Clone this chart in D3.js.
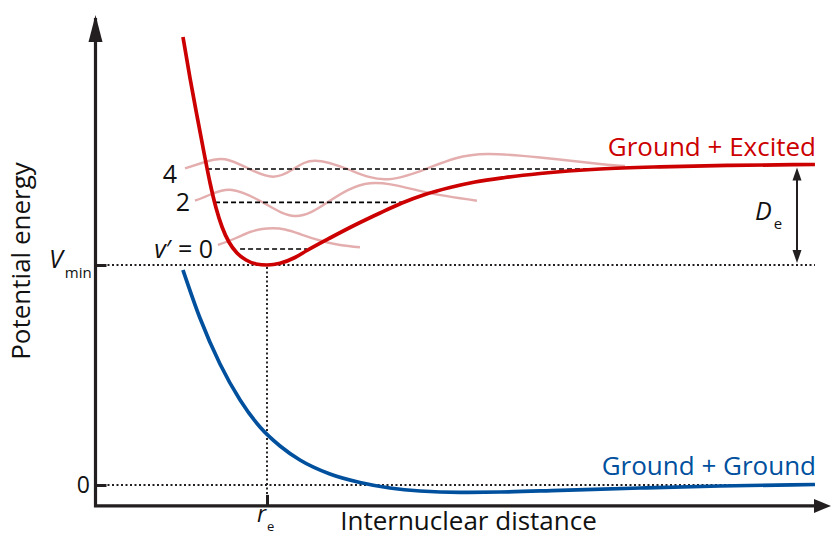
<!DOCTYPE html>
<html>
<head>
<meta charset="utf-8">
<script src="https://cdn.jsdelivr.net/npm/d3@7"></script>
<style>
  html, body { margin: 0; padding: 0; background: #fff; }
  svg { display: block; font-family: "Open Sans", "Noto Sans", sans-serif; }
</style>
</head>
<body>
<svg id="chart" width="832" height="537"></svg>
<script>
// ---- Data (r in units of r_e, energy in arbitrary units with V_min = 10) ----
const excitedR = [0.510, 0.551, 0.592, 0.633, 0.668, 0.703, 0.738, 0.778, 0.825, 0.878, 0.936, 1.000, 1.076, 1.163, 1.233, 1.367, 1.513, 1.659, 1.787, 1.921, 2.067, 2.213, 2.388, 2.592, 2.942, 3.292, 3.700, 4.195];
const excitedE = [20.364, 18.500, 16.773, 15.091, 13.727, 12.591, 11.727, 11.045, 10.545, 10.227, 10.045, 10.000, 10.077, 10.341, 10.659, 11.227, 11.818, 12.364, 12.818, 13.205, 13.523, 13.773, 13.977, 14.159, 14.364, 14.464, 14.527, 14.568];

const groundR = [0.510, 0.609, 0.726, 0.843, 0.959, 1.076, 1.192, 1.367, 1.542, 1.717, 1.892, 2.125, 2.359, 2.708, 3.175, 3.641, 4.195];
const groundE = [9.773, 7.591, 5.500, 3.864, 2.636, 1.773, 1.136, 0.500, 0.114, -0.136, -0.273, -0.332, -0.318, -0.241, -0.136, -0.045, 0.023];

const levelLabels = ["0", "2", "4"];
const levelE = [10.727, 12.850, 14.364];
const levelStartR = [0.843, 0.697, 0.650];
const levelEndR = [1.233, 1.787, 2.924];

const wave0R = [0.714, 0.813, 0.901, 0.971, 1.035, 1.105, 1.192, 1.309, 1.426, 1.542];
const wave0E = [10.909, 11.205, 11.500, 11.636, 11.668, 11.614, 11.409, 11.114, 10.909, 10.805];
const wave2R = [0.580, 0.679, 0.796, 0.971, 1.163, 1.356, 1.601, 1.910, 2.224];
const wave2E = [12.923, 13.227, 13.409, 12.864, 12.227, 12.864, 13.714, 13.332, 12.923];
const wave4R = [0.522, 0.638, 0.755, 0.901, 1.035, 1.152, 1.280, 1.484, 1.688, 1.910, 2.096, 2.289, 2.592, 2.942, 3.087];
const wave4E = [14.395, 14.682, 14.805, 14.350, 14.014, 14.350, 14.741, 14.318, 13.895, 14.318, 14.841, 15.045, 14.886, 14.591, 14.500];

const yTickValues = [0, 10];
const yTickLabels = ["0", "V|min"];
const xTickValues = [1];
const xTickLabels = ["r|e"];
const seriesNames = ["Ground + Excited", "Ground + Ground"];
const xTitle = "Internuclear distance";
const yTitle = "Potential energy";
const asymptoteE = 14.568;
const rMax = 4.195;

// ---- Scales ----
const svg = d3.select("#chart");
const x = d3.scaleLinear().domain([0, 1]).range([95.5, 267]);
const y = d3.scaleLinear().domain([0, 10]).range([485, 265]);
const axisColor = "#231f20";
const red = "#cc0000";
const blue = "#00509e";
const pink = "#e4aeae";

const x0 = x(0), yBase = y(-0.95);
const xEnd = x(rMax);

const line = d3.line().x(d => x(d[0])).y(d => y(d[1])).curve(d3.curveMonotoneX);
const waveLine = d3.line().x(d => x(d[0])).y(d => y(d[1])).curve(d3.curveNatural);
const zip = (a, b) => a.map((v, i) => [v, b[i]]);

// ---- Reference dotted lines ----
const dotted = svg.append("g").attr("stroke", axisColor).attr("stroke-width", 1.9).attr("stroke-dasharray", "2,2.5").attr("fill", "none");
yTickValues.forEach(v => {
  dotted.append("line").attr("x1", x0 + 12).attr("x2", xEnd).attr("y1", y(v)).attr("y2", y(v));
});
dotted.append("line").attr("x1", x(1)).attr("x2", x(1)).attr("y1", y(10) + 2).attr("y2", yBase - 12);

// ---- Wavefunctions ----
const waves = [zip(wave0R, wave0E), zip(wave2R, wave2E), zip(wave4R, wave4E)];
svg.append("g").selectAll("path").data(waves).join("path")
  .attr("d", waveLine).attr("fill", "none").attr("stroke", pink).attr("stroke-width", 2.4);

// ---- Vibrational levels ----
svg.append("g").selectAll("line").data(levelE).join("line")
  .attr("x1", (d, i) => x(levelStartR[i])).attr("x2", (d, i) => x(levelEndR[i]))
  .attr("y1", d => y(d)).attr("y2", d => y(d))
  .attr("stroke", "#000").attr("stroke-width", 1.7).attr("stroke-dasharray", "5,3");

// ---- Potential curves ----
svg.append("path").datum(zip(groundR, groundE)).attr("d", line)
  .attr("fill", "none").attr("stroke", blue).attr("stroke-width", 3.7);
svg.append("path").datum(zip(excitedR, excitedE)).attr("d", line)
  .attr("fill", "none").attr("stroke", red).attr("stroke-width", 3.7);

// ---- Axes (ticks via d3 axes) ----
const yAxis = d3.axisLeft(y).tickValues(yTickValues).tickSizeInner(-11).tickSizeOuter(0).tickFormat("");
const gy = svg.append("g").attr("transform", `translate(${x0},0)`).call(yAxis);
gy.select(".domain").remove();
gy.selectAll(".tick line").attr("stroke", axisColor).attr("stroke-width", 3);

const xAxis = d3.axisBottom(x).tickValues(xTickValues).tickSizeInner(-11).tickSizeOuter(0).tickFormat("");
const gx = svg.append("g").attr("transform", `translate(0,${yBase})`).call(xAxis);
gx.select(".domain").remove();
gx.selectAll(".tick line").attr("stroke", axisColor).attr("stroke-width", 3);

// axis lines with arrows
const ax = svg.append("g");
ax.append("path").attr("d", `M${x0},18 V${yBase} H822`).attr("fill", "none").attr("stroke", axisColor).attr("stroke-width", 3.2).attr("stroke-linejoin", "miter");
ax.append("path").attr("d", `M${x0},15 L${x0 - 7},42 L${x0 + 7},42 Z`).attr("fill", axisColor);
ax.append("path").attr("d", `M831,${yBase} L814,${yBase - 7} L814,${yBase + 7} Z`).attr("fill", axisColor);

// ---- D_e arrow ----
const deX = 797;
const yTop = y(asymptoteE) + 3, yBot = y(10) - 2;
ax.append("line").attr("x1", deX).attr("x2", deX).attr("y1", yTop + 8).attr("y2", yBot - 8).attr("stroke", axisColor).attr("stroke-width", 2);
ax.append("path").attr("d", `M${deX},${yTop} L${deX - 4.5},${yTop + 13} L${deX + 4.5},${yTop + 13} Z`).attr("fill", axisColor);
ax.append("path").attr("d", `M${deX},${yBot} L${deX - 4.5},${yBot - 13} L${deX + 4.5},${yBot - 13} Z`).attr("fill", axisColor);

// ---- Text ----
function subText(g, label, xPos, yPos, size, subSize, subDx, subDy, italic) {
  const [main, sub] = label.split("|");
  const t = g.append("text").attr("x", xPos).attr("y", yPos).attr("fill", "#111");
  t.append("tspan").text(main).attr("font-size", size).attr("font-style", italic ? "italic" : "normal");
  if (sub) t.append("tspan").text(sub).attr("font-size", subSize).attr("dx", subDx).attr("dy", subDy);
  return t;
}
const tg = svg.append("g");
// y tick labels
tg.append("text").attr("x", 90).attr("y", 493).attr("text-anchor", "end").attr("font-size", 23).attr("fill", "#111").text(yTickLabels[0]);
subText(tg, yTickLabels[1], 49, 268, 25, 15, 2, 10, true);
// x tick label
subText(tg, xTickLabels[0], 257, 522, 23, 13, 1, 9, true);
// D_e
subText(tg, "D|e", 755, 220, 25, 15, 2, 9, true);

// level labels
const lv = tg.append("text").attr("x", 213).attr("y", 258).attr("text-anchor", "end").attr("font-size", 25).attr("fill", "#111");
lv.append("tspan").text("v").attr("font-style", "italic");
lv.append("tspan").text("′ = " + levelLabels[0]);
tg.append("text").attr("x", 190).attr("y", 211).attr("text-anchor", "end").attr("font-size", 25).attr("fill", "#111").text(levelLabels[1]);
tg.append("text").attr("x", 177).attr("y", 183).attr("text-anchor", "end").attr("font-size", 25).attr("fill", "#111").text(levelLabels[2]);

// series names
tg.append("text").attr("x", 816).attr("y", 156).attr("text-anchor", "end").attr("font-size", 26).attr("fill", red).text(seriesNames[0]);
tg.append("text").attr("x", 816).attr("y", 475).attr("text-anchor", "end").attr("font-size", 26).attr("fill", blue).text(seriesNames[1]);

// axis titles
tg.append("text").attr("x", 468.5).attr("y", 530).attr("text-anchor", "middle").attr("font-size", 26).attr("fill", "#111").text(xTitle);
tg.append("text").attr("transform", "translate(30,261) rotate(-90)").attr("text-anchor", "middle").attr("font-size", 26).attr("fill", "#111").text(yTitle);
</script>
</body>
</html>
